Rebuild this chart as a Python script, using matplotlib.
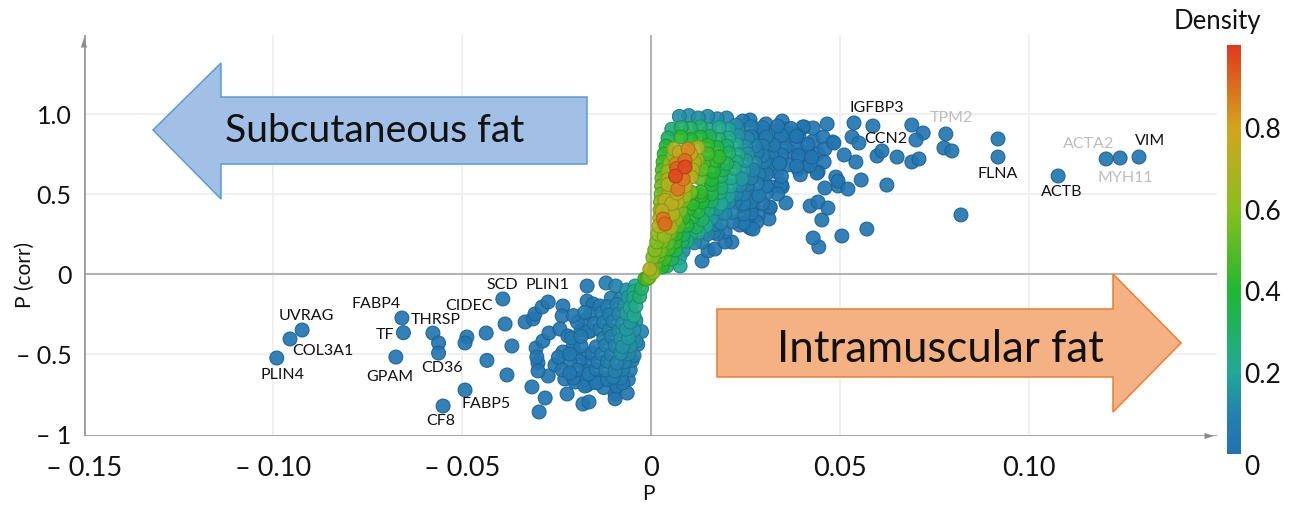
import numpy as np
import matplotlib
matplotlib.use("Agg")
import matplotlib.pyplot as plt
from matplotlib.colors import LinearSegmentedColormap
from matplotlib.patches import Polygon

plt.rcParams['font.family'] = ['Lato', 'DejaVu Sans']

W, H = 1290, 506

x_ticks = [-0.15, -0.10, -0.05, 0, 0.05, 0.10]
x_tick_labels = ['–\u2009\u20090.15', '–\u2009\u20090.10', '–\u2009\u20090.05', '0', '0.05', '0.10']
y_ticks = [-1, -0.5, 0, 0.5, 1.0]
y_tick_labels = ['–\u2009\u20091', '–\u2009\u20090.5', '0', '0.5', '1.0']
density_ticks = [0, 0.2, 0.4, 0.6, 0.8]
density_tick_labels = ['0', '0.2', '0.4', '0.6', '0.8']

# Labels
gene_names = ['IGFBP3', 'TPM2', 'CCN2', 'FLNA', 'ACTA2', 'VIM', 'MYH11', 'ACTB', 'SCD', 'PLIN1', 'FABP4',
              'CIDEC', 'UVRAG', 'THRSP', 'TF', 'COL3A1', 'CD36', 'GPAM', 'PLIN4', 'FABP5', 'CF8']
gene_p = [.0598, .0796, .0622, .0918, .1159, .132, .1254, .1087, -.0394, -.0275, -.0728,
          -.0481, -.0913, -.0569, -.0704, -.0868, -.0553, -.0690, -.0974, -.0436, -.0555]
gene_c = [1.044, .981, .85, .631, .819, .8375, .606, .519, -.0625, -.0625, -.181,
          -.194, -.256, -.281, -.375, -.475, -.5812, -.6375, -.625, -.806, -.9125]
gene_grey = ['TPM2', 'ACTA2', 'MYH11']

# Sparse blue points, right side
right_p = [.0466, .0537, .0587, .069, .072, .0701, .078, .0775, .0796, .0918, .0918, .1077, .1204, .1241, .1291,
           .082, .0571, .0505, .0429, .0444, .0452, .0421, .0442, .0468, .046, .0521, .0495, .0489, .0495, .0556,
           .0624, .0542, .0511, .0598, .0611, .0651, .069, .0709, .0532, .055, .0481, .0429, .0455, .0405, .0429,
           .0402, .0442, .046, .0458, .0413, .0442,
           .0262, .0243, .0304, .0347, .0347, .0325, .0286, .0402, .0392, .0354, .0484, .0439, .0415, .0389, .0362,
           .0333, .0323, .0373, .0336, .0307, .0347, .032, .0357, .0315, .0312, .0283, .028, .0262, .0235, .027,
           .0267, .0243, .0214, .0135, .0151, .0169, .0196, .0196, .0257, .027, .0315, .0249, .0222, .0262, .0175,
           .0183, .0156, .0372, .0295, .031, .0385, .0415, .0342, .0295]
right_c = [.9375, .944, .925, .931, .881, .8375, .875, .7875, .769, .844, .731, .6125, .719, .725, .731,
           .369, .281, .2375, .225, .169, .3375, .425, .45, .4125, .5375, .531, .55, .606, .581, .5875,
           .556, .7, .744, .7375, .769, .731, .7, .719, .856, .819, .825, .831, .856, .919, .9125,
           .7625, .75, .781, .7, .675, .6375,
           .9625, .956, .9375, .956, .906, .894, .8875, .919, .856, .844, .819, .631, .675, .656, .681,
           .6375, .8, .7625, .719, .656, .544, .544, .444, .4125, .344, .369, .325, .2875, .306, .425,
           .5125, .425, .2, .081, .144, .156, .2, .2625, .3, .281, .419, .425, .45, .5125, .356,
           .419, .4375, .88, .84, .76, .87, .76, .7, .6]

# Dense upper core, row by row
core_p = [.0075, .010, .0125, .015, .0175, .020,
          .0055, .008, .0105, .013, .0155, .018, .0205, .023,
          .0045, .0079, .0105, .013, .0155, .018, .0205, .023, .0255,
          .004, .0061, .0098, .0124, .015, .0175, .020, .0225, .025, .0275,
          .0035, .006, .0075, .0105, .0122, .015, .018, .0205, .023, .0255, .028,
          .0032, .005, .0066, .009, .0115, .014, .017, .020, .0225, .025, .0275, .03,
          .003, .0045, .0068, .009, .011, .0135, .0165, .019, .022, .0245, .027, .0295,
          .0029, .0045, .0065, .0085, .0106, .013, .016, .0185, .021, .024, .0265,
          .0028, .0045, .0071, .009, .0105, .0132, .016, .0185, .021, .0235,
          .0027, .0045, .0069, .009, .0106, .0132, .016, .0183, .0205, .0225,
          .0025, .0037, .0055, .0069, .0085, .011, .0135, .016, .0185, .0205, .0222,
          .0024, .0029, .0048, .0058, .0078, .010, .0125, .015, .0175,
          .0023, .0032, .0047, .0065, .0085, .011, .0135, .016,
          .0021, .0037, .0052, .0072, .0095, .012, .0145, .017,
          .0018, .0035, .005, .0066, .0085, .0105, .0125, .015,
          .0015, .003, .0045, .0063, .0082, .0095, .0115, .0135,
          .001, .0025, .0045, .0065, .0085,
          .0005, .0019, .0035, .0055, .0075,
          -.0003, .0012, .0029, .0042, .0077,
          -.0005, .0005, -.001]
core_c = [.985, .99, .975, .985, .97, .975,
          .905, .915, .91, .92, .90, .915, .905, .91,
          .85, .856, .84, .855, .86, .84, .85, .865, .85,
          .80, .781, .781, .79, .805, .79, .80, .81, .795, .80,
          .75, .74, .76, .75, .7125, .75, .731, .755, .745, .75, .76,
          .70, .69, .6875, .71, .70, .695, .71, .69, .70, .71, .695, .70,
          .65, .64, .66, .669, .65, .655, .64, .65, .66, .645, .65, .655,
          .60, .59, .6125, .594, .606, .60, .59, .61, .60, .595, .60,
          .55, .56, .531, .55, .5125, .5125, .56, .54, .55, .555,
          .50, .49, .505, .49, .505, .49, .50, .51, .49, .50,
          .45, .46, .44, .45, .46, .44, .45, .455, .44, .45, .45,
          .40, .394, .41, .375, .395, .41, .39, .40, .41,
          .35, .344, .355, .34, .35, .355, .34, .35,
          .30, .3125, .29, .30, .305, .295, .30, .31,
          .25, .2375, .255, .25, .245, .25, .2625, .25,
          .20, .205, .195, .2, .205, .206, .195, .2,
          .15, .145, .156, .15, .145,
          .105, .1125, .095, .094, .10,
          .03, .0625, .044, .05, .05,
          -.02, .01, -.03]
core_d = [.13, .13, .13, .12, .12, .1,
          .25, .3, .3, .28, .22, .22, .18, .1,
          .3, .42, .4, .38, .32, .28, .22, .14, .09,
          .38, .68, .85, .68, .42, .36, .28, .2, .13, .09,
          .42, .6, .75, .75, .65, .45, .42, .3, .22, .14, .08,
          .45, .6, .85, .9, .65, .45, .42, .32, .24, .16, .1, .06,
          .48, .62, .92, .97, .7, .5, .4, .32, .24, .16, .1, .05,
          .52, .68, .97, .88, .72, .5, .38, .3, .22, .16, .08,
          .55, .7, .88, .75, .55, .42, .36, .28, .2, .12,
          .55, .68, .75, .62, .42, .42, .34, .26, .18, .1,
          .58, .72, .72, .7, .55, .42, .38, .3, .2, .12, .07,
          .6, .72, .68, .7, .55, .42, .36, .26, .16,
          .68, .88, .7, .6, .42, .36, .3, .16,
          .7, .9, .68, .48, .38, .3, .22, .09,
          .6, .62, .55, .42, .3, .25, .22, .1,
          .58, .56, .5, .42, .3, .26, .12, .08,
          .58, .55, .45, .35, .12,
          .58, .5, .45, .32, .2,
          .7, .5, .4, .3, .2,
          .55, .6, .5]

# Extra points filling the shoulder of the upper cluster
shoulder_p = [.0225, .0265, .0295, .0335, .037,
              .0265, .0305, .0345, .0385,
              .0295, .0325, .0355, .0385, .0415,
              .0295, .032, .0345, .039, .0425,
              .0315, .034, .0385, .042,
              .0285, .0305, .0345, .0395,
              .0255, .028, .0305, .0345,
              .0245, .0285, .0305, .0335,
              .0245, .0265, .0295,
              .0195, .0215, .0245, .0265,
              .0185, .0215, .0245,
              .0165, .0175]
shoulder_c = [.93, .92, .915, .925, .91,
              .86, .855, .865, .86,
              .80, .805, .79, .80, .81,
              .74, .735, .745, .74, .73,
              .68, .69, .675, .68,
              .62, .625, .61, .62,
              .56, .565, .55, .56,
              .50, .49, .505, .50,
              .44, .45, .44,
              .38, .385, .375, .38,
              .32, .325, .32,
              .26, .25]
shoulder_d = [.12, .06, .05, .04, .03,
              .07, .05, .04, .03,
              .06, .05, .04, .03, .03,
              .07, .05, .04, .03, .03,
              .05, .05, .03, .03,
              .07, .05, .04, .03,
              .08, .07, .05, .03,
              .08, .06, .04, .03,
              .07, .05, .04,
              .12, .08, .05, .04,
              .1, .06, .04,
              .08, .05]

# Lower-left cluster, row by row
lower_p = [-.0119, -.0093, -.0065, -.0045, -.0025, -.0016, -.0042,
           -.0105, -.008, -.006, -.0045, -.003,
           -.0135, -.0115, -.009, -.007, -.0055, -.004,
           -.016, -.013, -.011, -.0085, -.0065, -.0045,
           -.0195, -.0175, -.015, -.0125, -.01, -.0075, -.0055, -.004,
           -.0185, -.016, -.0135, -.011, -.0085, -.0065, -.0045, -.0025,
           -.0125, -.0105, -.008, -.006, -.004,
           -.0185, -.0145, -.012, -.0095, -.0075, -.0055, -.0035,
           -.02, -.0175, -.0155, -.013, -.0105, -.008, -.006, -.0045,
           -.0215, -.019, -.0165, -.014, -.0115, -.009, -.007, -.005,
           -.0195, -.017, -.0145, -.012, -.0095, -.0075, -.0055,
           -.0205, -.018, -.015, -.0125, -.01, -.008,
           -.0175, -.0125, -.009,
           -.0205, -.0175, -.021, -.0185, -.0165, -.0215, -.0245, -.0235,
           -.0215, -.0165, -.0145, -.0115, -.0075, -.006]
lower_c = [-.056, -.075, -.1, -.11, -.09, -.03, -.075,
           -.15, -.155, -.145, -.15, -.14,
           -.2, -.205, -.19, -.2, -.21, -.2,
           -.25, -.245, -.255, -.25, -.245, -.26,
           -.30, -.29, -.31, -.30, -.295, -.31, -.30, -.29,
           -.35, -.355, -.345, -.35, -.355, -.345, -.35, -.36,
           -.40, -.39, -.41, -.40, -.42,
           -.45, -.455, -.445, -.45, -.455, -.45, -.44,
           -.50, -.51, -.495, -.50, -.505, -.495, -.50, -.51,
           -.55, -.545, -.555, -.55, -.545, -.555, -.55, -.54,
           -.60, -.61, -.595, -.60, -.605, -.595, -.60,
           -.65, -.64, -.655, -.65, -.645, -.65,
           -.70, -.71, -.70,
           -.26, -.24, -.40, -.39, -.36, -.50, -.52, -.60,
           -.62, -.625, -.68, -.66, -.68, -.66]
lower_d = [.07, .09, .14, .22, .3, .42, .2,
           .07, .09, .16, .22, .27,
           .05, .07, .09, .14, .2, .22,
           .05, .07, .08, .1, .17, .22,
           .04, .04, .06, .07, .09, .14, .16, .14,
           .04, .05, .06, .08, .12, .16, .14, .09,
           .07, .09, .13, .16, .12,
           .04, .06, .08, .1, .14, .13, .08,
           .04, .04, .05, .07, .09, .13, .12, .08,
           .04, .04, .04, .06, .08, .1, .1, .07,
           .04, .04, .05, .07, .09, .09, .06,
           .04, .04, .04, .05, .07, .06,
           .04, .04, .04,
           .05, .05, .05, .05, .05, .05, .04, .04,
           .04, .05, .05, .05, .05, .05]

# Sparse blue points, left side
left_p = [-.099, -.0955, -.0923, -.0659, -.0655, -.0675, -.0577, -.0562, -.0562, -.0487, -.0492, -.0436, -.0368,
          -.0434, -.0381, -.0492, -.055, -.0392, -.0386, -.0333, -.0312, -.0307, -.0288, -.0272, -.0169, -.0233,
          -.0235, -.0169, -.0153, -.0315, -.028, -.0296, -.0222, -.018, -.0164, -.0095, -.0095, -.0063,
          -.0304, -.0286, -.027, -.0241, -.022, -.0206, -.0233, -.0254, -.0272, -.0299, -.0299, -.0302, -.0228,
          -.0201, -.0169, -.014, -.0095]
left_c = [-.525, -.406, -.35, -.275, -.367, -.519, -.369, -.431, -.494, -.394, -.431, -.369, -.45,
          -.54, -.631, -.725, -.825, -.156, -.3125, -.30, -.281, -.25, -.206, -.175, -.075, -.2,
          -.262, -.169, -.1875, -.706, -.775, -.8625, -.75, -.8125, -.8, -.75, -.78, -.744,
          -.4625, -.419, -.369, -.344, -.387, -.456, -.4875, -.569, -.6375, -.556, -.606, -.519, -.656,
          -.675, -.694, -.675, -.6875]

cmap = LinearSegmentedColormap.from_list('density', [
    (0.0, '#2271b3'), (0.1, '#2484ad'), (0.2, '#21a898'), (0.4, '#22b832'),
    (0.6, '#8abf1f'), (0.8, '#d3a51f'), (1.0, '#e2391e')])

fig = plt.figure(figsize=(W / 100, H / 100), dpi=100, facecolor='white')


def box(l, t, r, b):
    return [l / W, 1 - b / H, (r - l) / W, (b - t) / H]


ax = fig.add_axes(box(84, 36, 1217, 437))
ax.set_xlim(-0.15, (1217 - 651) / 3780)
ax.set_ylim((275 - 437) / 160, (275 - 36) / 160)
for s in ax.spines.values():
    s.set_visible(False)
ax.patch.set_alpha(0)

ax.set_xticks(x_ticks)
ax.set_xticklabels(x_tick_labels, fontsize=19.5, color='#111111')
ax.set_yticks(y_ticks)
ax.set_yticklabels(y_tick_labels, fontsize=18, color='#111111')
ax.tick_params(axis='x', length=0, pad=14)
ax.tick_params(axis='y', length=0, pad=9)
ax.set_xlabel('P', fontsize=15, color='#111111', va='center')
ax.set_ylabel('P (corr)', fontsize=15, color='#111111', va='center')
ax.xaxis.set_label_coords((648 - 84) / (1217 - 84), -(494 - 437) / (437 - 36))
ax.yaxis.set_label_coords((25 - 84) / (1217 - 84), (437 - 275) / (437 - 36))

for v in [-0.10, -0.05, 0.05, 0.10]:
    ax.axvline(v, color='#ececec', lw=1.2, zorder=0)
for v in [-0.5, 0.5, 1.0]:
    ax.axhline(v, color='#f0f0f0', lw=1.6, zorder=0)
ax.axvline(0, color='#b4b4b4', lw=1.5, zorder=1)
ax.axhline(0, color='#b4b4b4', lw=1.5, zorder=1)
ax.axvline(-0.15, color='#9a9a9a', lw=2, zorder=1)
ax.axhline(ax.get_ylim()[0], color='#9a9a9a', lw=2, zorder=1)

p = np.array(right_p + left_p + core_p + shoulder_p + lower_p)
c = np.array(right_c + left_c + core_c + shoulder_c + lower_c)
d = np.array([0.03] * len(right_p) + [0.03] * len(left_p) + core_d + shoulder_d + lower_d)
order = np.argsort(d)
fills = cmap(d[order])
edges = fills.copy()
edges[:, :3] *= 0.82
ax.scatter(p[order], c[order], c=fills, s=100, alpha=0.92, edgecolors=edges, linewidths=0.8,
           zorder=3, clip_on=False)
for name, gx, gy in zip(gene_names, gene_p, gene_c):
    ax.text(gx, gy, name, ha='center', va='center', fontsize=11.5, zorder=5,
            color='#bdbdbd' if name in gene_grey else '#111111')

ax.annotate('', xy=(1.0, 0), xytext=(0.985, 0), xycoords='axes fraction',
            arrowprops=dict(arrowstyle='-|>,head_length=0.7,head_width=0.22', color='#8c8c8c', lw=0))
ax.annotate('', xy=(0, 1.0), xytext=(0, 0.96), xycoords='axes fraction',
            arrowprops=dict(arrowstyle='-|>,head_length=0.7,head_width=0.22', color='#8c8c8c', lw=0))

# Overlay in pixel coordinates for the two arrows
ov = fig.add_axes([0, 0, 1, 1], zorder=6)
ov.set_xlim(0, W)
ov.set_ylim(H, 0)
ov.axis('off')
ov.add_patch(Polygon([(153, 131), (221, 64), (221, 98), (587, 98), (587, 165), (221, 165), (221, 200)],
                     closed=True, facecolor='#a2c0e6', edgecolor='#5b9bd5', lw=1.1))
ov.add_patch(Polygon([(717, 310), (1113, 310), (1113, 275), (1181, 344), (1113, 413), (1113, 378), (717, 378)],
                     closed=True, facecolor='#f4b183', edgecolor='#ed7d31', lw=1.1))
ov.text(375, 131, 'Subcutaneous fat', ha='center', va='center', fontsize=28.2, color='#111111')
ov.text(940, 349, 'Intramuscular fat', ha='center', va='center', fontsize=31.5, color='#111111')

# Colour bar
cax = fig.add_axes(box(1227, 46, 1241, 455))
cax.imshow(np.linspace(1, 0, 256).reshape(-1, 1), aspect='auto', cmap=cmap, extent=[0, 1, 0, 1], vmin=0, vmax=1)
cax.set_xticks([])
cax.yaxis.tick_right()
cax.set_yticks(density_ticks)
cax.set_yticklabels(density_tick_labels, fontsize=19, color='#111111')
cax.tick_params(axis='y', length=0, pad=2)
cax.get_yticklabels()[0].set_verticalalignment('top')
for s in cax.spines.values():
    s.set_visible(False)
fig.text(1217 / W, 1 - 22 / H, 'Density', ha='center', va='center', fontsize=18.5, color='#111111')

fig.savefig('out.png', dpi=100)
